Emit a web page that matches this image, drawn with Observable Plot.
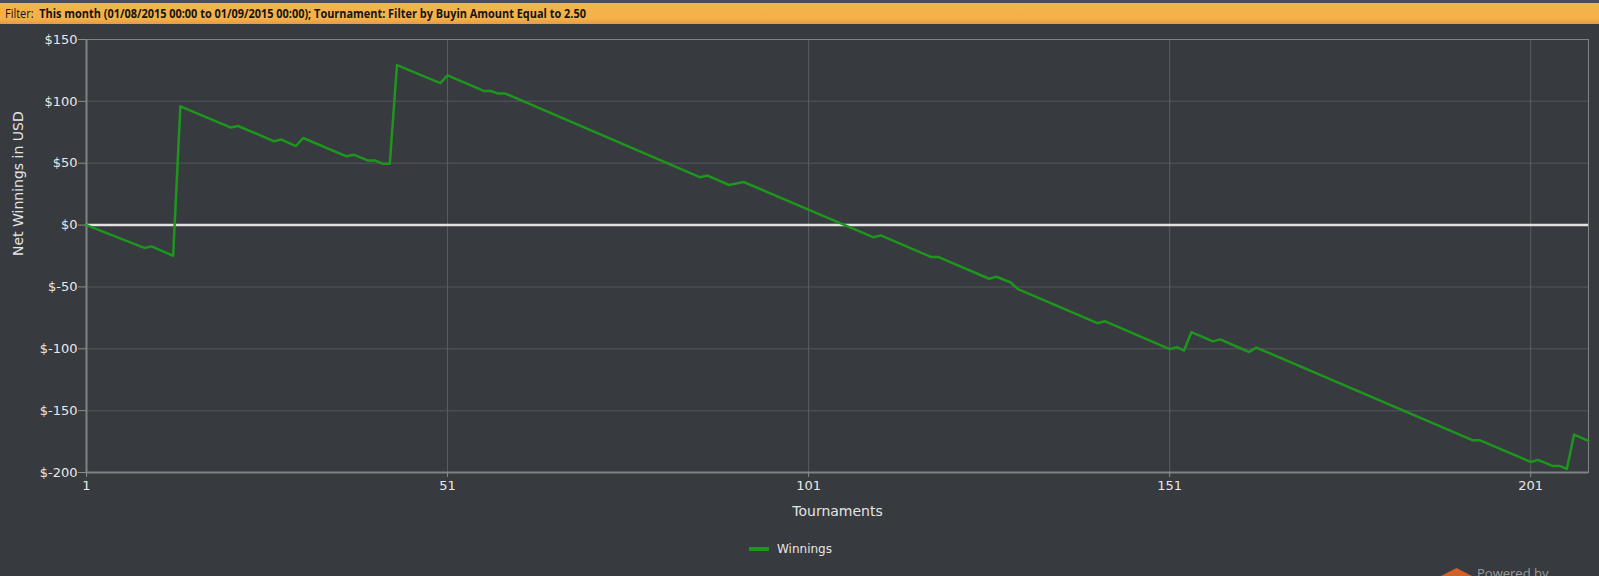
<!DOCTYPE html>
<html>
<head>
<meta charset="utf-8">
<script src="https://cdn.jsdelivr.net/npm/d3@7"></script>
<script src="https://cdn.jsdelivr.net/npm/@observablehq/plot@0.6"></script>
<style>
  html, body {
    margin: 0;
    padding: 0;
    width: 1599px;
    height: 576px;
    overflow: hidden;
    background: #373a3e;
    position: relative;
  }
  #filter {
    height: 21px;
    border-top: 3px solid #4b4f53;
    background: linear-gradient(#f6b44d, #f4b049 75%, #e39c42);
    font-family: "Open Sans", sans-serif;
    font-size: 13px;
    line-height: 21px;
    color: #141414;
    white-space: nowrap;
  }
  #filter span.inner {
    display: inline-block;
    padding-left: 6px;
    transform: scaleX(0.84);
    transform-origin: left center;
  }
  #filter b { font-weight: 700; }
  #chart svg { display: block; }
  #legend {
    display: flex;
    align-items: center;
    padding-left: 749px;
    margin-top: 11px;
    height: 16px;
    font-family: "DejaVu Sans", sans-serif;
    font-size: 12px;
    color: #e6e6e6;
  }
  #legend .swatch {
    width: 20px;
    height: 4px;
    background: #1e961e;
    margin-right: 8px;
  }
  #powered {
    position: absolute;
    left: 1477px;
    top: 564px;
    font-family: "Open Sans", sans-serif;
    font-size: 13px;
    color: #9a9a9a;
  }
  #logo {
    position: absolute;
    left: 1437px;
    top: 568px;
    width: 39px;
    height: 20px;
    background: #d0612a;
    clip-path: polygon(50% 0, 100% 50%, 50% 100%, 0 50%);
  }
</style>
</head>
<body>
<div id="filter"><span class="inner">Filter:&nbsp; <b>This month (01/08/2015 00:00 to 01/09/2015 00:00); Tournament: Filter by Buyin Amount Equal to 2.50</b></span></div>
<div id="chart"></div>
<div id="legend"><div class="swatch"></div><span>Winnings</span></div>
<div id="logo"></div>
<div id="powered">Powered by</div>
<script>
// turning points of the running total (tournament number, net winnings in USD)
const tournaments = [1, 9, 10, 13, 14, 21, 22, 27, 28, 30, 31, 37, 38, 40, 41, 42, 43, 44, 50, 51,
  56, 57, 58, 59, 86, 87, 90, 92, 110, 111, 118, 119, 126, 127, 129, 130, 141, 142, 151, 152,
  153, 154, 157, 158, 162, 163, 193, 194, 201, 202, 204, 205, 206, 207, 209];
const winnings = [0, -18.5, -17.2, -24.8, 96, 78.8, 80.1, 67.7, 69.1, 63.9, 70.4, 55.6, 56.9, 52.1, 52.1, 49.6, 49.6, 129.3, 114.7, 121,
  108.4, 108.4, 106.3, 106.3, 38.6, 40, 32.4, 34.8, -9.9, -8.3, -25.9, -25.9, -43.4, -41.8, -46.4, -51.8, -79.3, -77.7, -100.3, -98.7,
  -101.4, -86.6, -94, -92.4, -102.6, -99, -174, -174, -191.5, -189.8, -194.7, -194.7, -197.1, -169.4, -174.4];

const xTicks = [1, 51, 101, 151, 201];
const yTicks = [150, 100, 50, 0, -50, -100, -150, -200];
const xDomain = [1, 209];
const yDomain = [-200, 150];

const rows = tournaments.map((t, i) => ({ tournament: t, winnings: winnings[i] }));

function winningsChart() {
  return Plot.plot({
    width: 1599,
    height: 506,
    marginLeft: 86,
    marginRight: 11,
    marginTop: 15,
    marginBottom: 58,
    style: {
      background: "transparent",
      color: "#e8e8e8",
      fontFamily: "DejaVu Sans, sans-serif",
      fontSize: "13px",
      overflow: "visible"
    },
    x: { domain: xDomain },
    y: { domain: yDomain },
    marks: [
      Plot.ruleY(yTicks.filter(d => d !== 0 && d > yDomain[0] && d < yDomain[1]), {
        stroke: "#4a4d51",
        strokeWidth: 1.5
      }),
      Plot.ruleX(xTicks.filter(d => d > xDomain[0]), { stroke: "#5b5e62" }),
      Plot.frame({ stroke: "#808285" }),
      Plot.ruleX([xDomain[0]], { stroke: "#7f8184", strokeWidth: 2 }),
      Plot.ruleY([yDomain[0]], { stroke: "#7f8184", strokeWidth: 2 }),
      Plot.ruleY([0], { stroke: "#e2e2e2", strokeWidth: 2.6 }),
      Plot.line(rows, {
        x: "tournament",
        y: "winnings",
        stroke: "#1e961e",
        strokeWidth: 2.5
      }),
      Plot.axisY({
        ticks: yTicks,
        tickFormat: d => "$" + d,
        tickSize: 8,
        tickPadding: 1,
        stroke: "#8c8c8c",
        fill: "#e8e8e8",
        fontSize: 13,
        label: null
      }),
      Plot.axisX({
        ticks: xTicks,
        tickFormat: d => String(d),
        tickSize: 5,
        tickPadding: 3,
        stroke: "#8c8c8c",
        fill: "#e8e8e8",
        fontSize: 13,
        label: null
      }),
      Plot.text(["Net Winnings in USD"], {
        text: d => d,
        frameAnchor: "left",
        rotate: -90,
        dx: -68,
        fontSize: 14,
        fill: "#e4e4e4"
      }),
      Plot.text(["Tournaments"], {
        text: d => d,
        frameAnchor: "bottom",
        dy: 43,
        fontSize: 14,
        fill: "#e4e4e4"
      })
    ]
  });
}

document.getElementById("chart").appendChild(winningsChart());
</script>
</body>
</html>
